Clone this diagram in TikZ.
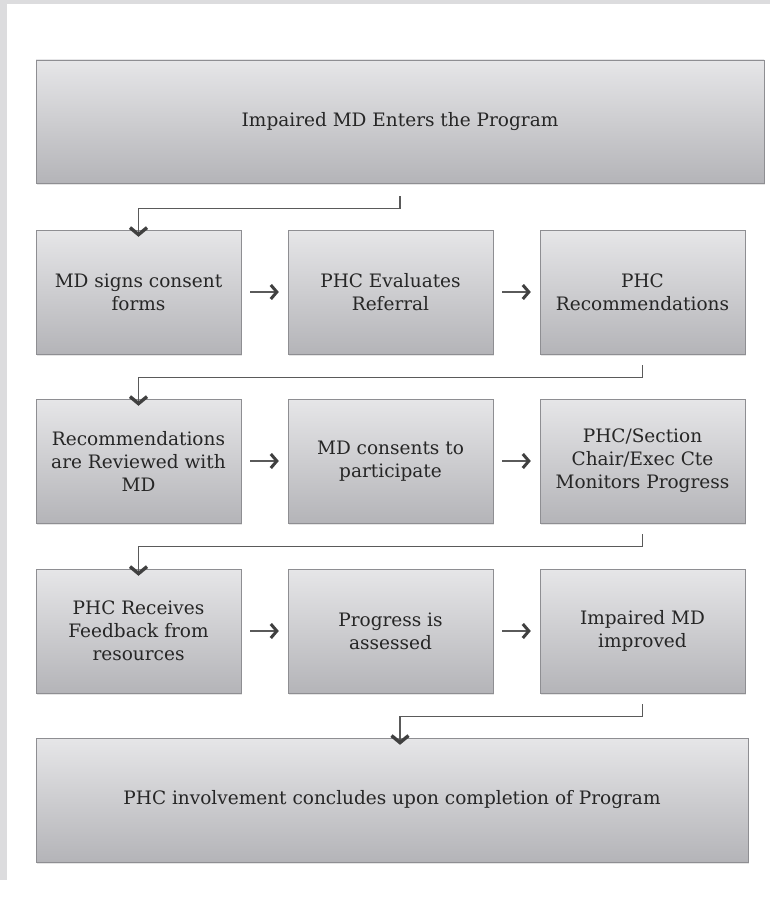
\documentclass[tikz,border=0pt]{standalone}
\usepackage{fontspec}
\setmainfont{DejaVu Serif}
\usetikzlibrary{arrows.meta,shadows}
\definecolor{frame}{HTML}{DCDCDE}
\definecolor{boxtop}{HTML}{E6E6E8}
\definecolor{boxbot}{HTML}{B4B4B8}
\definecolor{boxline}{HTML}{8E8E92}
\definecolor{ink}{HTML}{262626}
\definecolor{wire}{HTML}{5A5A5A}
\definecolor{tip}{HTML}{404040}
\tikzset{stepbox/.style={draw=boxline,thin,top color=boxtop,bottom color=boxbot,minimum width=205pt,minimum height=124pt,align=center,text=ink,font=\fontsize{18.5}{23}\selectfont,drop shadow={opacity=0.2,shadow xshift=0.6pt,shadow yshift=-2pt}},
  nxt/.style={wire,line width=2pt,shorten <=9pt,shorten >=9pt,-{Straight Barb[tip,length=6pt,width=14pt,line width=3pt]}},
  turn/.style={wire,line width=1.3pt,-{Straight Barb[tip,length=7pt,width=17pt,line width=3.4pt]}}}

\begin{document}
\begin{tikzpicture}[x=1pt,y=-1pt]
\useasboundingbox (0,0) rectangle (774,899);
\fill[white] (0,0) rectangle (774,899);
\fill[frame] (0,0) rectangle (770,4);
\fill[frame] (0,0) rectangle (7,880);
% boxes
\node[stepbox,minimum width=728pt,minimum height=123pt] (enter) at (400,121.5) {Impaired MD Enters the Program};
\node[stepbox] (consent) at (138.5,292) {MD signs consent\\forms};
\node[stepbox] (evaluate) at (390.5,292) {PHC Evaluates\\Referral};
\node[stepbox] (recomm) at (642.5,292) {PHC\\Recommendations};
\node[stepbox] (review) at (138.5,461) {Recommendations\\are Reviewed with\\MD};
\node[stepbox] (agree) at (390.5,461) {MD consents to\\participate};
\node[stepbox] (monitor) at (642.5,461) {PHC/Section\\Chair/Exec Cte\\Monitors Progress};
\node[stepbox] (feedback) at (138.5,631) {PHC Receives\\Feedback from\\resources};
\node[stepbox] (assess) at (390.5,631) {Progress is\\assessed};
\node[stepbox] (improved) at (642.5,631) {Impaired MD\\improved};
\node[stepbox,minimum width=712pt] (conclude) at (392,800) {PHC involvement concludes upon completion of Program};
% arrows in rows
\draw[nxt] (consent) -- (evaluate);
\draw[nxt] (evaluate) -- (recomm);
\draw[nxt] (review) -- (agree);
\draw[nxt] (agree) -- (monitor);
\draw[nxt] (feedback) -- (assess);
\draw[nxt] (assess) -- (improved);
% turns between rows
\draw[turn] ([yshift=-13pt]enter.south) -- ++(0,12) -| ([yshift=-7pt]consent.north);
\draw[turn] ([yshift=-11pt]recomm.south) -- ++(0,12) -| ([yshift=-7pt]review.north);
\draw[turn] ([yshift=-11pt]monitor.south) -- ++(0,12) -| ([yshift=-7pt]feedback.north);
\draw[turn] ([yshift=-11pt]improved.south) -- ++(0,12) -| ([xshift=8pt,yshift=-7pt]conclude.north);
\end{tikzpicture}
\end{document}
